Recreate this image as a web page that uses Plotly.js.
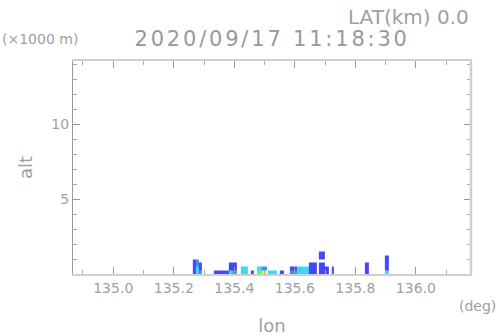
<!DOCTYPE html>
<html>
<head>
<meta charset="utf-8">
<script src="https://cdn.plot.ly/plotly-3.0.1.min.js"></script>
<style>html,body{margin:0;padding:0;background:#fff;}#chart{width:498px;height:336px;}
.gtitle{letter-spacing:2.8px;}</style>
</head>
<body>
<div id="chart"></div>
<script>
// Longitude bin edges (deg) of the cross-section columns
const lonEdges = [135.263,135.273,135.283,135.293,135.333,135.346,135.369,135.382,135.395,135.409,135.422,135.445,135.455,135.465,135.475,135.491,135.507,135.511,135.540,135.550,135.564,135.584,135.607,135.647,135.673,135.679,135.699,135.713,135.722,135.729,135.831,135.844,135.897,135.911];
// Altitude bin edges (x1000 m)
const altEdges = [0, 0.25, 0.5, 0.75, 1.0, 1.25, 1.5];
const n = null;
// Intensity values per altitude row (1 = blue ... 5 = yellow)
const z0 = [1,3,2,n,1,1,1,3,2,n,3,n,1,n,4,5,n,3,n,1,n,2,3,1,n,1,1,n,1,n,1,n,3];
const z1 = [1,3,1,n,n,n,n,1,1,n,3,n,n,n,3,2,n,n,n,n,n,1,3,1,n,1,1,n,1,n,1,n,1];
const z2 = [1,2,1,n,n,n,n,1,1,n,n,n,n,n,n,n,n,n,n,n,n,n,n,1,n,1,n,n,n,n,1,n,1];
const z3 = [1,2,n,n,n,n,n,n,n,n,n,n,n,n,n,n,n,n,n,n,n,n,n,n,n,n,n,n,n,n,n,n,1];
const z4 = [n,n,n,n,n,n,n,n,n,n,n,n,n,n,n,n,n,n,n,n,n,n,n,n,n,1,n,n,n,n,n,n,1];
const z5 = [n,n,n,n,n,n,n,n,n,n,n,n,n,n,n,n,n,n,n,n,n,n,n,n,n,1,n,n,n,n,n,n,n];

const xTickVals = [135.0,135.2,135.4,135.6,135.8,136.0];
const xTickText = ['135.0','135.2','135.4','135.6','135.8','136.0'];
const yTickVals = [5,10];
const yTickText = ['5','10'];

const titleText = '2020/09/17 11:18:30';
const latText = 'LAT(km) 0.0';

const txt = '#a0a0a0';
const fontFam = 'DejaVu Sans, sans-serif';

const trace = {
  type: 'heatmap',
  x: lonEdges,
  y: altEdges,
  z: [z0, z1, z2, z3, z4, z5],
  zmin: 1, zmax: 5,
  colorscale: [[0,'#4646ff'],[0.25,'#3c8cff'],[0.5,'#3cd7ff'],[0.75,'#3cff96'],[1,'#e6ff3c']],
  showscale: false,
  zsmooth: false,
  hoverongaps: false
};

const layout = {
  width: 498, height: 336,
  margin: {l: 73, r: 27, t: 61, b: 62},
  paper_bgcolor: '#fff', plot_bgcolor: '#fff',
  showlegend: false,
  font: {family: fontFam, color: txt},
  title: {text: titleText, x: 0.5465, xanchor: 'center', y: 0.885, yanchor: 'middle',
          font: {size: 21, color: '#999', family: fontFam}},
  xaxis: {
    range: [134.867, 136.182],
    tickvals: xTickVals, ticktext: xTickText,
    ticks: 'inside', ticklen: 7, tickcolor: '#999', tickwidth: 1,
    minor: {dtick: 0.1, tick0: 135.0, ticks: 'inside', ticklen: 4, tickcolor: '#aaa'},
    showline: true, linecolor: '#cfcfcf', linewidth: 2, mirror: 'allticks',
    showgrid: false, zeroline: false,
    tickfont: {size: 14, color: txt, family: fontFam},
    title: {text: 'lon', font: {size: 18, color: txt, family: fontFam}, standoff: 28}
  },
  yaxis: {
    range: [0, 14.2],
    tickvals: yTickVals, ticktext: yTickText,
    ticks: 'inside', ticklen: 7, tickcolor: '#999', tickwidth: 1,
    minor: {dtick: 1, tick0: 0, ticks: 'inside', ticklen: 4, tickcolor: '#aaa'},
    showline: true, linecolor: '#999', linewidth: 1, mirror: 'allticks',
    showgrid: false, zeroline: false,
    tickfont: {size: 14, color: txt, family: fontFam},
    title: {text: 'alt', font: {size: 18, color: txt, family: fontFam}, standoff: 14}
  },
  shapes: [
    {type: 'line', xref: 'paper', yref: 'paper', x0: 1, x1: 1, y0: 0, y1: 1,
     line: {color: '#cfcfcf', width: 2.5}}
  ],
  annotations: [
    {text: latText, xref: 'paper', yref: 'paper', x: 1.0, y: 1.0 + 44/213, xanchor: 'right', yanchor: 'middle',
     showarrow: false, font: {size: 20, color: txt, family: fontFam}},
    {text: '(×1000 m)', xref: 'paper', yref: 'paper', x: -73/398, y: 1.0 + 22/213, xanchor: 'left', yanchor: 'middle',
     showarrow: false, font: {size: 14, color: txt, family: fontFam}},
    {text: '(deg)', xref: 'paper', yref: 'paper', x: 1 + 27/398, y: -32/213, xanchor: 'right', yanchor: 'middle',
     showarrow: false, font: {size: 14, color: txt, family: fontFam}}
  ]
};

Plotly.newPlot('chart', [trace], layout, {staticPlot: true, displayModeBar: false});
</script>
</body>
</html>
